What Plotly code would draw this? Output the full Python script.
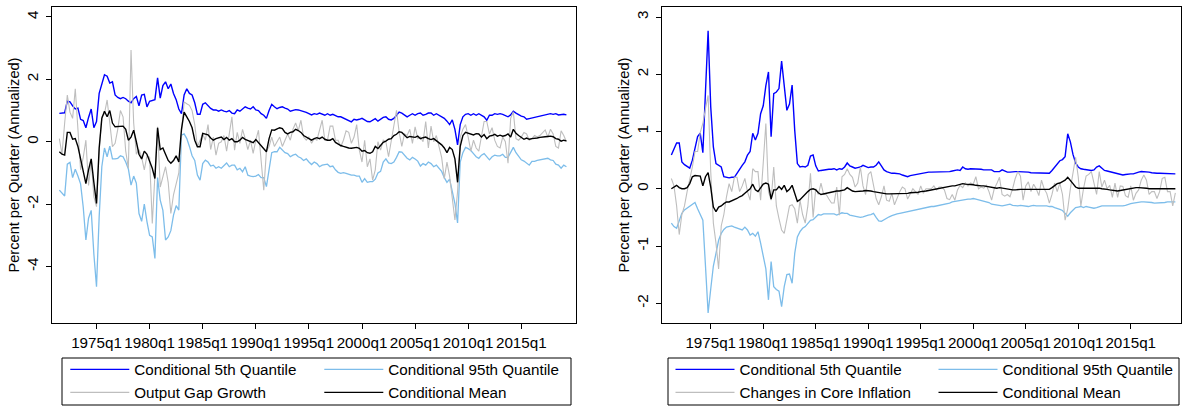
import plotly.graph_objects as go

W, H = 1183, 407

# ---------------- Left panel: output gap growth (quarterly, from 1971q3) ----------------
gap_start = 1971.5  # 1971q3
gap_q5 = [
    0.91, 0.91, 0.93, 1.30, 1.28, 1.15, 1.05, 1.08, 0.72, 0.68, 0.45, 0.78, 1.05, 0.45, 0.65, 1.55,
    1.90, 2.15, 2.10, 1.88, 1.92, 1.50, 1.42, 1.38, 1.42, 1.38, 1.30, 1.25, 1.38, 1.45, 1.15, 1.50,
    1.52, 1.12, 1.30, 1.33, 1.35, 2.05, 1.40, 1.80, 1.92, 1.70, 1.85, 1.55, 1.35, 1.05, 0.90, 1.50,
    1.70, 1.55, 1.50, 1.25, 0.88, 0.88, 1.20,
    1.25, 1.15, 1.07, 1.02, 1.02, 0.98, 1.02, 0.98, 0.96, 1.00, 0.92, 0.90, 1.02, 0.98, 1.05, 1.12,
    1.08, 1.05, 1.12, 1.02, 1.00, 0.90, 0.85, 0.75, 1.00, 1.20, 1.12, 1.06, 1.10, 1.12, 1.08, 1.05,
    0.98, 1.00, 1.03, 1.02, 1.00, 0.96, 0.94, 0.90, 0.86, 0.90, 0.88, 0.92, 0.88, 0.85, 0.90, 0.85,
    0.88, 0.84, 0.80, 0.80, 0.76, 0.74, 0.69, 0.64, 0.72, 0.70, 0.72, 0.75, 0.70, 0.65, 0.64, 0.70,
    0.74, 0.66, 0.72, 0.78,
    0.80, 0.72, 0.70, 0.75, 0.85, 0.95, 0.92, 0.85, 0.80, 0.85, 0.90, 0.85, 0.90, 0.92, 0.85, 0.88,
    0.92, 0.92, 0.85, 0.90, 0.85, 0.80, 0.75, 0.66, 0.55, 0.70, 0.40, -0.10, 0.55, 0.80, 0.88, 0.90,
    0.85, 0.90, 0.85, 0.90, 0.85, 0.80, 0.69, 0.85, 0.85, 0.90, 0.88, 0.90, 0.88, 0.85, 0.80, 0.86,
    0.98, 0.92, 0.86, 0.82, 0.80, 0.72, 0.74, 0.76, 0.78, 0.80, 0.82, 0.85, 0.87, 0.88, 0.90, 0.88,
    0.90, 0.86, 0.88, 0.88, 0.86,
]
gap_q95 = [
    -1.55, -1.65, -1.74, -0.72, -0.66, -1.15, -0.88, -1.10, -1.35, -2.10, -3.15, -2.45, -2.20, -3.60, -4.65, -2.40,
    -0.80, -0.20, -0.48, -0.14, -0.55, -0.55, -0.53, -0.45, -0.48, -0.65, -0.87, -1.39, -1.10, -1.33, -2.30, -2.55,
    -2.00, -2.56, -3.00, -3.05, -3.74, -1.15, -1.87, -2.20, -3.15, -3.05, -2.85, -2.35, -2.05, -2.19, 0.21, 0.25,
    0.10, -0.15, -0.45, -0.60, -1.07, -1.23, -0.70,
    -0.59, -0.65, -0.78, -0.75, -0.85, -0.80, -0.85, -0.75, -0.68, -0.80, -0.75, -0.75, -0.90, -0.85, -0.96, -0.80,
    -1.07, -1.10, -1.12, -1.10, -1.05, -1.15, -1.15, -1.44, -0.85, -0.35, -0.32, -0.32, -0.18, -0.25, -0.35, -0.38,
    -0.48, -0.43, -0.40, -0.48, -0.52, -0.60, -0.55, -0.65, -0.73, -0.65, -0.70, -0.80, -0.75, -0.73, -0.72, -0.80,
    -0.78, -0.90, -0.98, -1.01, -0.99, -1.01, -1.05, -1.07, -1.07, -1.10, -1.10, -1.30, -1.18, -1.30, -1.28, -1.28,
    -1.20, -1.00, -0.95, -0.65,
    -0.55, -0.68, -0.70, -0.65, -0.50, -0.32, -0.33, -0.42, -0.53, -0.58, -0.50, -0.55, -0.62, -0.78, -0.70, -0.75,
    -0.65, -0.70, -0.80, -0.75, -0.85, -0.95, -1.15, -1.30, -1.20, -1.55, -1.98, -2.60, -0.65, -0.35, -0.18, -0.22,
    -0.28, -0.38, -0.48, -0.53, -0.43, -0.38, -0.50, -0.58, -0.48, -0.43, -0.45, -0.45, -0.40, -0.50, -0.50, -0.35,
    -0.18, -0.35, -0.48, -0.58, -0.62, -0.70, -0.75, -0.63, -0.63, -0.60, -0.58, -0.58, -0.55, -0.53, -0.58, -0.60,
    -0.72, -0.75, -0.85, -0.75, -0.80,
]
gap_growth = [
    0.10, -0.40, 0.60, 1.50, 0.95, 0.75, 1.70, 0.50, -0.90, -0.50, 0.05, -1.40, -0.60, -1.76, -2.08, -0.30,
    0.80, 0.90, 1.34, 0.60, -0.16, -0.05, 0.40, 1.00, 0.80, -0.30, -0.85, 2.94, 0.60, -0.40, -0.25, -0.50,
    -0.90, -0.45, -0.50, -2.62, -1.20, 0.48, -1.45, -1.10, -0.80, -1.30, -2.30, -1.70, -1.30, -1.00, 0.30, 1.28,
    1.22, 1.17, 1.00, 0.55, -0.16, 0.05, 0.25,
    0.05, 0.55, -0.25, 0.15, -0.43, -0.05, 0.00, 0.20, -0.30, 0.30, 0.80, -0.27, 0.30, -0.05, 0.40, 0.10,
    -0.25, 0.05, -0.37, 0.05, 0.37, -0.60, -1.55, -0.30, -0.15, 0.15, -0.15, 0.00, 0.15, -0.15, 0.05, 0.25,
    0.05, 0.40, 0.60, 0.35, 0.69, 0.15, 0.05, 0.15, -0.05, 0.10, 0.05, 0.37, 0.69, 0.05, 0.05, 0.50,
    0.50, 0.05, 0.05, -0.16, 0.05, 0.35, 0.30, -0.05, 0.15, 0.55, -0.27, -0.65, 0.05, -0.80, -0.55, -1.23,
    -0.90, 0.00, -0.27, 0.05,
    0.00, -0.48, 0.00, 0.40, 1.01, 0.30, -0.15, 0.25, 0.20, 0.40, -0.05, 0.48, 0.10, 0.15, 0.00, 0.65,
    -0.20, 0.50, 0.00, 0.20, -0.20, -0.50, -1.18, -0.65, -1.10, -1.85, -2.51, -1.60, 0.15, 0.40, 0.55, 0.15,
    -0.30, 0.05, -0.20, -0.30, 0.25, 0.65, 0.65, 0.25, 0.45, 0.05, -0.15, -0.20, 0.15, 0.00, -0.69, 0.75,
    0.96, 0.10, 0.05, 0.15, 0.30, 0.25, 0.05, 0.10, 0.20, 0.15, 0.20, 0.30, 0.38, 0.15, 0.40, 0.25,
    -0.15, -0.20, 0.35, 0.20, 0.00,
]
gap_mean = [
    -0.32, -0.40, -0.43, 0.30, 0.30, 0.08, 0.10, -0.15, -0.55, -1.00, -1.34, -0.90, -0.55, -1.30, -1.98, -0.20,
    0.75, 0.98, 0.80, 1.00, 0.60, 0.48, 0.48, 0.50, 0.50, 0.40, 0.05, 0.15, 0.37, 0.00, -0.40, -0.55,
    -0.30, -0.40, -0.60, -0.85, -1.18, 0.45, -0.25, -0.20, -0.40, -0.60, -0.69, -0.60, -0.45, -0.65, 0.40, 0.95,
    0.80, 0.65, 0.45, 0.05, -0.16, -0.16, 0.27,
    0.24, 0.22, 0.12, 0.05, 0.10, 0.12, 0.15, 0.07, 0.14, 0.05, 0.10, 0.00, 0.00, 0.05, 0.14, 0.08,
    0.04, 0.00, -0.03, 0.07, -0.03, -0.12, -0.22, -0.32, 0.10, 0.38, 0.37, 0.42, 0.45, 0.42, 0.30, 0.25,
    0.30, 0.32, 0.40, 0.36, 0.30, 0.20, 0.15, 0.10, 0.05, 0.10, 0.13, 0.10, 0.15, 0.08, 0.05, 0.05,
    0.10, -0.02, -0.08, -0.12, -0.15, -0.18, -0.20, -0.21, -0.20, -0.18, -0.21, -0.30, -0.28, -0.35, -0.37, -0.32,
    -0.15, -0.22, -0.12, -0.02,
    0.02, 0.08, 0.10, 0.20, 0.24, 0.32, 0.30, 0.20, 0.13, 0.17, 0.15, 0.14, 0.18, 0.10, 0.13, 0.15,
    0.10, 0.07, 0.10, 0.03, -0.02, -0.10, -0.20, -0.35, -0.18, -0.25, -0.55, -1.30, -0.15, 0.20, 0.30, 0.28,
    0.25, 0.22, 0.26, 0.25, 0.15, 0.23, 0.10, 0.18, 0.20, 0.24, 0.18, 0.21, 0.18, 0.20, 0.25, 0.15,
    0.40, 0.27, 0.20, 0.15, 0.08, 0.12, 0.08, 0.10, 0.10, 0.12, 0.14, 0.14, 0.16, 0.17, 0.18, 0.16,
    0.10, 0.08, 0.02, 0.05, 0.03,
]

# ---------------- Right panel: core inflation changes (quarterly, from 1971q2) ----------------
inf_start = 1971.25  # 1971q2
inf_q5 = [
    0.59, 0.70, 0.80, 0.80, 0.47, 0.42, 0.39, 0.36, 0.50, 0.73, 0.91, 0.97, 0.63, 1.70, 2.76, 1.43,
    0.73, 0.44, 0.41, 0.38, 0.21, 0.20, 0.19, 0.20, 0.20, 0.27, 0.35, 0.41, 0.47, 0.59, 0.65, 0.97,
    0.85, 0.97, 1.31, 1.45, 1.80, 2.04, 0.91, 1.66, 1.69, 1.75, 2.23, 1.78, 1.37, 1.48, 1.81, 1.02,
    0.44, 0.38, 0.39, 0.38, 0.41, 0.57, 0.59, 0.40,
    0.31, 0.32, 0.33, 0.33, 0.34, 0.34, 0.35, 0.33, 0.35, 0.34, 0.38, 0.45, 0.40, 0.38, 0.36, 0.37,
    0.38, 0.41, 0.39, 0.37, 0.38, 0.38, 0.41, 0.47, 0.40, 0.33, 0.30, 0.28, 0.27, 0.27, 0.27, 0.26,
    0.24, 0.22, 0.21, 0.23, 0.24, 0.24, 0.25, 0.27, 0.27, 0.28, 0.29, 0.29, 0.29, 0.29, 0.29, 0.30,
    0.30, 0.30, 0.30, 0.31, 0.32, 0.33, 0.32, 0.38, 0.35, 0.34, 0.35, 0.35, 0.35, 0.35, 0.34, 0.33,
    0.33, 0.34, 0.33, 0.30, 0.30, 0.30,
    0.33, 0.31, 0.29, 0.29, 0.30, 0.30, 0.30, 0.30, 0.29, 0.29, 0.29, 0.28, 0.28, 0.28, 0.28, 0.28,
    0.27, 0.27, 0.27, 0.32, 0.38, 0.44, 0.49, 0.51, 0.56, 0.96, 0.82, 0.60, 0.45, 0.38, 0.35, 0.34,
    0.33, 0.33, 0.32, 0.33, 0.38, 0.40, 0.36, 0.32, 0.31, 0.30, 0.29, 0.28, 0.27, 0.26, 0.24, 0.25,
    0.26, 0.26, 0.26, 0.28, 0.29, 0.30, 0.30, 0.30, 0.29, 0.28, 0.27, 0.27, 0.27, 0.27, 0.27, 0.26,
    0.26, 0.26, 0.26,
]
inf_q95 = [
    -0.60, -0.66, -0.69, -0.55, -0.43, -0.37, -0.34, -0.30, -0.27, -0.24, -0.35, -0.46, -0.55, -1.35, -2.17, -1.75,
    -1.35, -1.13, -0.90, -0.78, -0.71, -0.67, -0.66, -0.65, -0.67, -0.69, -0.70, -0.72, -0.67, -0.72, -0.81, -0.78,
    -0.83, -0.75, -0.95, -1.20, -1.40, -1.94, -1.27, -1.71, -1.76, -1.79, -2.06, -1.71, -1.50, -1.49, -1.65, -1.13,
    -0.84, -0.75, -0.69, -0.66, -0.60, -0.55, -0.54, -0.49,
    -0.45, -0.46, -0.44, -0.44, -0.44, -0.44, -0.44, -0.46, -0.44, -0.42, -0.43, -0.43, -0.46, -0.47, -0.48, -0.49,
    -0.50, -0.49, -0.47, -0.46, -0.45, -0.43, -0.50, -0.56, -0.57, -0.54, -0.52, -0.49, -0.47, -0.45, -0.44, -0.43,
    -0.42, -0.41, -0.40, -0.39, -0.37, -0.36, -0.35, -0.34, -0.34, -0.33, -0.32, -0.31, -0.31, -0.30, -0.29, -0.28,
    -0.28, -0.27, -0.25, -0.23, -0.22, -0.21, -0.20, -0.19, -0.18, -0.18, -0.18, -0.17, -0.18, -0.19, -0.20, -0.21,
    -0.23, -0.24, -0.27, -0.28, -0.29, -0.30,
    -0.30, -0.29, -0.28, -0.27, -0.29, -0.30, -0.30, -0.29, -0.30, -0.31, -0.31, -0.30, -0.29, -0.30, -0.30, -0.29,
    -0.29, -0.30, -0.31, -0.31, -0.33, -0.34, -0.36, -0.38, -0.43, -0.48, -0.42, -0.37, -0.33, -0.32, -0.31, -0.33,
    -0.31, -0.32, -0.33, -0.34, -0.33, -0.31, -0.30, -0.30, -0.30, -0.30, -0.30, -0.31, -0.30, -0.30, -0.30, -0.29,
    -0.27, -0.26, -0.25, -0.24, -0.23, -0.23, -0.23, -0.23, -0.24, -0.24, -0.25, -0.25, -0.25, -0.24, -0.24, -0.23,
    -0.23, -0.23, -0.23,
]
core_inflation_change = [
    0.18, 0.05, -0.30, -0.80, -0.45, -0.30, -0.05, 0.15, 0.38, 0.65, 0.65, 0.98, 1.14, 1.40, 1.63, 0.30,
    -0.60, -0.95, -1.40, -0.65, -0.45, -0.14, 0.09, -0.05, 0.20, 0.20, -0.05, 0.05, 0.18, -0.05, -0.20, 0.35,
    0.30, 0.30, -0.20, 0.45, 1.14, -0.05, -0.20, 0.38, -0.30, -0.52, -0.72, -0.78, -0.55, -0.30, -0.28, -0.35,
    -0.60, -0.20, -0.45, -0.60, -0.30, 0.27, -0.50, 0.00,
    -0.10, 0.10, -0.10, -0.10, -0.18, -0.25, -0.25, 0.03, -0.46, 0.21, 0.25, 0.35, 0.25, 0.20, 0.03, 0.10,
    0.38, 0.05, -0.10, 0.25, 0.30, 0.03, -0.17, -0.28, -0.14, 0.05, -0.20, -0.22, -0.08, -0.28, -0.15, -0.05,
    0.03, 0.00, -0.18, -0.08, 0.00, -0.05, -0.10, 0.05, -0.08, 0.00, 0.00, 0.00, 0.05, -0.02, 0.03, 0.03,
    -0.02, -0.17, -0.19, -0.10, -0.20, -0.02, 0.06, 0.02, 0.10, 0.05, 0.10, 0.08, 0.21, 0.00, 0.03, 0.01,
    0.06, -0.05, -0.20, 0.00, 0.09, 0.20,
    -0.10, -0.13, -0.10, -0.14, 0.00, 0.18, 0.30, 0.22, -0.20, 0.05, 0.12, -0.05, 0.08, 0.00, -0.12, 0.15,
    0.00, -0.08, -0.25, -0.10, 0.10, -0.05, 0.10, -0.10, -0.55, -0.35, 0.00, 0.24, 0.55, 0.21, -0.30, 0.00,
    0.22, 0.25, 0.30, 0.10, -0.10, 0.30, 0.03, 0.15, 0.00, 0.06, -0.15, 0.10, -0.15, 0.05, 0.04, -0.12,
    -0.15, 0.05, -0.20, -0.08, -0.02, 0.15, 0.24, 0.15, -0.10, -0.05, -0.05, -0.17, -0.05, 0.18, 0.20, -0.05,
    -0.05, -0.30, -0.07,
]
inf_mean = [
    0.00, 0.03, 0.06, 0.02, 0.00, 0.00, 0.02, 0.09, 0.21, 0.23, 0.23, 0.22, 0.05, 0.21, 0.28, 0.03,
    -0.32, -0.40, -0.32, -0.30, -0.26, -0.23, -0.23, -0.21, -0.20, -0.17, -0.14, -0.12, -0.08, -0.04, 0.00, 0.08,
    -0.02, -0.05, 0.02, 0.08, 0.10, 0.08, -0.18, -0.02, -0.02, 0.04, -0.01, 0.06, -0.05, -0.01, 0.06, -0.08,
    -0.22, -0.19, -0.14, -0.10, -0.05, -0.01, 0.00, -0.02,
    -0.07, -0.10, -0.09, -0.08, -0.06, -0.06, -0.05, -0.04, -0.04, -0.03, -0.02, 0.02, -0.01, -0.04, -0.05, -0.05,
    -0.04, -0.04, -0.03, -0.03, -0.04, -0.05, -0.06, -0.07, -0.08, -0.09, -0.09, -0.09, -0.09, -0.09, -0.09, -0.09,
    -0.09, -0.09, -0.08, -0.07, -0.07, -0.06, -0.06, -0.05, -0.05, -0.04, -0.03, -0.02, -0.02, -0.01, 0.00, 0.01,
    0.02, 0.03, 0.04, 0.05, 0.05, 0.06, 0.07, 0.09, 0.08, 0.08, 0.07, 0.07, 0.06, 0.05, 0.05, 0.05,
    0.04, 0.03, 0.02, 0.02, 0.01, 0.02,
    0.01, 0.01, 0.00, -0.01, -0.02, -0.02, -0.01, -0.01, -0.01, -0.01, -0.01, -0.01, -0.01, -0.01, -0.01, -0.01,
    -0.01, -0.01, -0.01, 0.02, 0.06, 0.09, 0.10, 0.12, 0.15, 0.20, 0.15, 0.09, 0.03, 0.01, 0.01, 0.01,
    0.02, 0.02, 0.02, 0.02, 0.01, 0.01, 0.00, 0.00, -0.01, -0.02, -0.03, -0.04, -0.04, -0.03, -0.02, -0.01,
    0.00, 0.01, 0.02, 0.02, 0.02, 0.02, 0.01, 0.01, 0.00, 0.00, 0.00, 0.00, 0.00, 0.00, 0.00, -0.01,
    -0.01, -0.01, 0.00,
]

tick_years = [1975, 1980, 1985, 1990, 1995, 2000, 2005, 2010, 2015]
tick_labels = ["1975q1", "1980q1", "1985q1", "1990q1", "1995q1", "2000q1", "2005q1", "2010q1", "2015q1"]
left_yticks = [-4, -2, 0, 2, 4]
left_ylabels = ["-4", "-2", "0", "2", "4"]
right_yticks = [-2, -1, 0, 1, 2, 3]
right_ylabels = ["-2", "-1", "0", "1", "2", "3"]

names_left = ["Conditional 5th Quantile", "Conditional 95th Quantile", "Output Gap Growth", "Conditional Mean"]
names_right = ["Conditional 5th Quantile", "Conditional 95th Quantile", "Changes in Core Inflation", "Conditional Mean"]

C_BLUE = "#0000FF"
C_LTBLUE = "#7DBDEA"
C_GRAY = "#BEBEBE"
C_BLACK = "#000000"
FONT = "Liberation Sans, Arial, sans-serif"
FS = 15.2
FS_TITLE = 14.6


def quarters(start, values):
    return [start + k / 4.0 for k in range(len(values))]


fig = go.Figure()

specs = [
    ("x", "y", gap_start, [gap_q5, gap_q95, gap_growth, gap_mean], names_left,
     ["legend", "legend", "legend2", "legend2"]),
    ("x2", "y2", inf_start, [inf_q5, inf_q95, core_inflation_change, inf_mean], names_right,
     ["legend3", "legend3", "legend4", "legend4"]),
]
colors = [C_BLUE, C_LTBLUE, C_GRAY, C_BLACK]
widths = [1.4, 1.3, 1.1, 1.4]

for xa, ya, start, series, names, legs in specs:
    for vals, name, col, wd, lg in zip(series, names, colors, widths, legs):
        fig.add_trace(go.Scatter(
            x=quarters(start, vals), y=vals, mode="lines", name=name,
            line=dict(color=col, width=wd), xaxis=xa, yaxis=ya, legend=lg,
            hoverinfo="skip",
        ))

y_dom = [(H - 323.3) / H, (H - 6.7) / H]
axis_common = dict(showline=True, mirror=True, linecolor="black", linewidth=1,
                   ticks="outside", ticklen=5, tickcolor="black", tickwidth=1,
                   showgrid=False, zeroline=False, automargin=False,
                   tickfont=dict(family=FONT, size=FS, color="black"))
title_font = dict(family=FONT, size=FS_TITLE, color="black")

fig.update_layout(
    width=W, height=H,
    margin=dict(l=0, r=0, t=0, b=0, pad=0, autoexpand=False),
    paper_bgcolor="white", plot_bgcolor="white",
    font=dict(family=FONT, size=FS, color="black"),
    xaxis=dict(domain=[51.7 / W, 576.3 / W], range=[1970.78, 2020.18], anchor="y", tickangle=0,
               tickmode="array", tickvals=tick_years, ticktext=tick_labels, **axis_common),
    yaxis=dict(domain=y_dom, range=[-5.82, 4.33], anchor="x",
               tickmode="array", tickvals=left_yticks, ticktext=left_ylabels, tickangle=-90,
               ticklabelstandoff=2,
               title=dict(text="Percent per Quarter (Annualized)", standoff=0, font=title_font),
               **axis_common),
    xaxis2=dict(domain=[661.7 / W, 1180.5 / W], range=[1970.33, 2019.74], anchor="y2", tickangle=0,
                tickmode="array", tickvals=tick_years, ticktext=tick_labels, **axis_common),
    yaxis2=dict(domain=y_dom, range=[-2.35, 3.18], anchor="x2",
                tickmode="array", tickvals=right_yticks, ticktext=right_ylabels, tickangle=-90,
                ticklabelstandoff=2,
                title=dict(text="Percent per Quarter (Annualized)", standoff=0, font=title_font),
                **axis_common),
    showlegend=True,
)

leg_common = dict(orientation="h", xanchor="left", yanchor="middle", itemwidth=59,
                  entrywidthmode="pixels", bgcolor="rgba(0,0,0,0)", borderwidth=0,
                  font=dict(family=FONT, size=FS, color="black"), traceorder="normal",
                  itemclick=False, itemdoubleclick=False)
fig.update_layout(
    legend=dict(x=65.3 / W, y=1 - 369.5 / H, entrywidth=180, **leg_common),
    legend2=dict(x=65.3 / W, y=1 - 392.5 / H, entrywidth=180, **leg_common),
    legend3=dict(x=670.5 / W, y=1 - 369.5 / H, entrywidth=189, **leg_common),
    legend4=dict(x=670.5 / W, y=1 - 392.5 / H, entrywidth=189, **leg_common),
)

# legend frames
for x0, x1 in [(62, 571), (668, 1179)]:
    fig.add_shape(type="rect", xref="paper", yref="paper",
                  x0=x0 / W, x1=x1 / W, y0=1 - 405 / H, y1=1 - 358 / H,
                  line=dict(color="black", width=1), fillcolor="rgba(0,0,0,0)", layer="above")

fig.write_html(
    "out.html",
    config={"displayModeBar": False, "responsive": False},
    post_script="document.body.style.margin='0px';document.body.style.overflow='hidden';",
)
